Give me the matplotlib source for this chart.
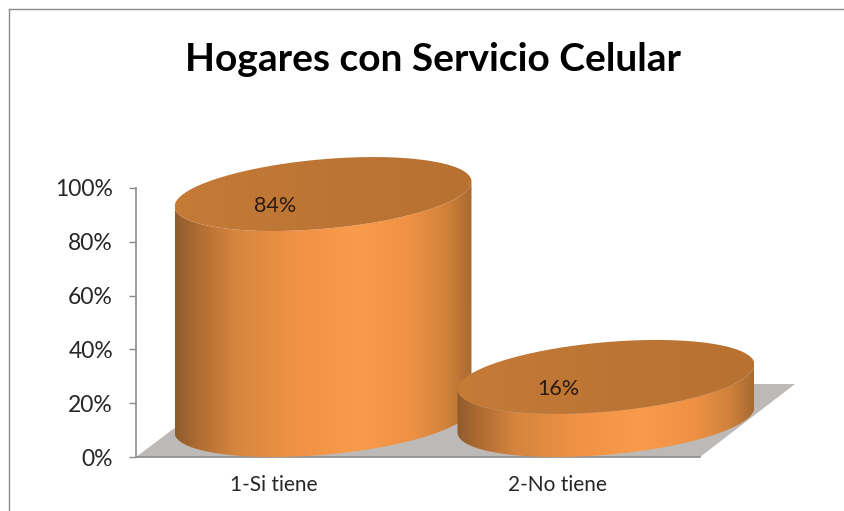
import numpy as np
import matplotlib
matplotlib.use("Agg")
import matplotlib.pyplot as plt
from matplotlib.colors import LinearSegmentedColormap
from matplotlib.lines import Line2D
from matplotlib.patches import PathPatch, Polygon
from matplotlib.path import Path

categories = ["1-Si tiene", "2-No tiene"]
values = [84, 16]
yticks = [0, 20, 40, 60, 80, 100]

W, H = 845, 511
plt.rcParams['font.family'] = ['Lato', 'DejaVu Sans']

fig = plt.figure(figsize=(W / 100, H / 100), dpi=100)
fig.set_facecolor('w')

# plot box in pixels, 0% at y=457 and 100% at y=188
left, right, bottom, top = 136, 700, 457, 188
ax = fig.add_axes([left / W, 1 - bottom / H, (right - left) / W, (bottom - top) / H])

px_x = 283.0  # pixels per category
px_y = (bottom - top) / 100.0
rx = 148.5 / px_x
ry_total = 37.0 / px_y
tilt = 12.5 / px_y  # the ellipses lean, right end higher than left end
ry = np.sqrt(ry_total ** 2 - tilt ** 2)
x_pos = np.arange(len(categories))
label_shift = -49 / px_x

side_cmap = LinearSegmentedColormap.from_list("side", [
    (0.0, "#8f5c2d"), (0.07, "#ad6b33"), (0.20, "#d6853e"), (0.40, "#ef9245"),
    (0.62, "#f99b4b"), (0.80, "#ee9145"), (0.92, "#cf813b"), (1.0, "#a86a30")])
top_cmap = LinearSegmentedColormap.from_list("top", ["#c67b37", "#bc7534", "#b77131"])

x0 = (left - 323) / px_x
x1 = (right - 323) / px_x
ax.set_xlim(x0, x1)
ax.set_ylim(0, 100)

# floor
shift_x = 95 / px_x
shift_y = 73 / px_y
ax.add_patch(Polygon([(x0, 0), (x1, 0), (x1 + shift_x, shift_y), (x0 + shift_x + 2 / px_x, shift_y)],
                     closed=True, fc="#bdb9b6", ec="none", zorder=1, clip_on=False))

t = np.linspace(np.pi, 2 * np.pi, 120)
for i, (xc, v) in enumerate(zip(x_pos, values)):
    yb = ry_total
    yt = ry_total + v
    ex = xc + rx * np.cos(t)
    ey = ry * np.sin(t) + tilt * np.cos(t)

    # side of the cylinder
    verts = np.vstack([np.column_stack([ex, yt + ey]), np.column_stack([ex[::-1], yb + ey[::-1]])])
    clip = PathPatch(Path(np.vstack([verts, verts[0]])), transform=ax.transData)
    im = ax.imshow(np.linspace(0, 1, 256)[None, :], cmap=side_cmap, aspect='auto',
                   extent=(xc - rx, xc + rx, 0, yt + ry_total), zorder=2 + 2 * i)
    im.set_clip_box(fig.bbox)
    im.set_clip_path(clip)

    # top of the cylinder
    a = np.linspace(0, 2 * np.pi, 240)
    clip2 = PathPatch(Path(np.column_stack([xc + rx * np.cos(a), yt + ry * np.sin(a) + tilt * np.cos(a)])),
                      transform=ax.transData)
    im2 = ax.imshow(np.linspace(0, 1, 256)[None, :], cmap=top_cmap, aspect='auto',
                    extent=(xc - rx, xc + rx, yt - ry_total, yt + ry_total), zorder=3 + 2 * i)
    im2.set_clip_box(fig.bbox)
    im2.set_clip_path(clip2)

    ax.annotate(f"{v}%", (xc, yt), xytext=(-48 * 0.72, -12 * 0.72), textcoords='offset points',
                ha='center', va='center', fontsize=15.5, color="#2b1a10", zorder=10, annotation_clip=False)

ax.set_xlim(x0, x1)
ax.set_ylim(0, 100)

for s in ['top', 'right']:
    ax.spines[s].set_visible(False)
for s in ['left', 'bottom']:
    ax.spines[s].set_color("#8c8c8c")
    ax.spines[s].set_linewidth(1.2)
    ax.spines[s].set_zorder(1.5)

ax.set_yticks(yticks)
ax.set_yticklabels([f"{y}%" for y in yticks], fontsize=16.5, color="#262626")
ax.tick_params(axis='y', length=5, width=1.0, color="#8c8c8c", pad=11.5)
ax.set_xticks(x_pos + label_shift)
ax.set_xticklabels(categories, fontsize=15, color="#262626")
ax.tick_params(axis='x', length=0, pad=13)

fig.text(433 / W, 1 - 59 / H, "Hogares con Servicio Celular", ha='center', va='center',
         fontsize=28, fontweight='bold', color="#000000")

# chart frame
fig.add_artist(Line2D([9.5 / W, 9.5 / W], [0, 1 - 9.5 / H], color="#8c8c8c", lw=1.0))
fig.add_artist(Line2D([9.5 / W, 1], [1 - 9.5 / H, 1 - 9.5 / H], color="#8c8c8c", lw=1.0))

plt.savefig('out.png', dpi=100)
